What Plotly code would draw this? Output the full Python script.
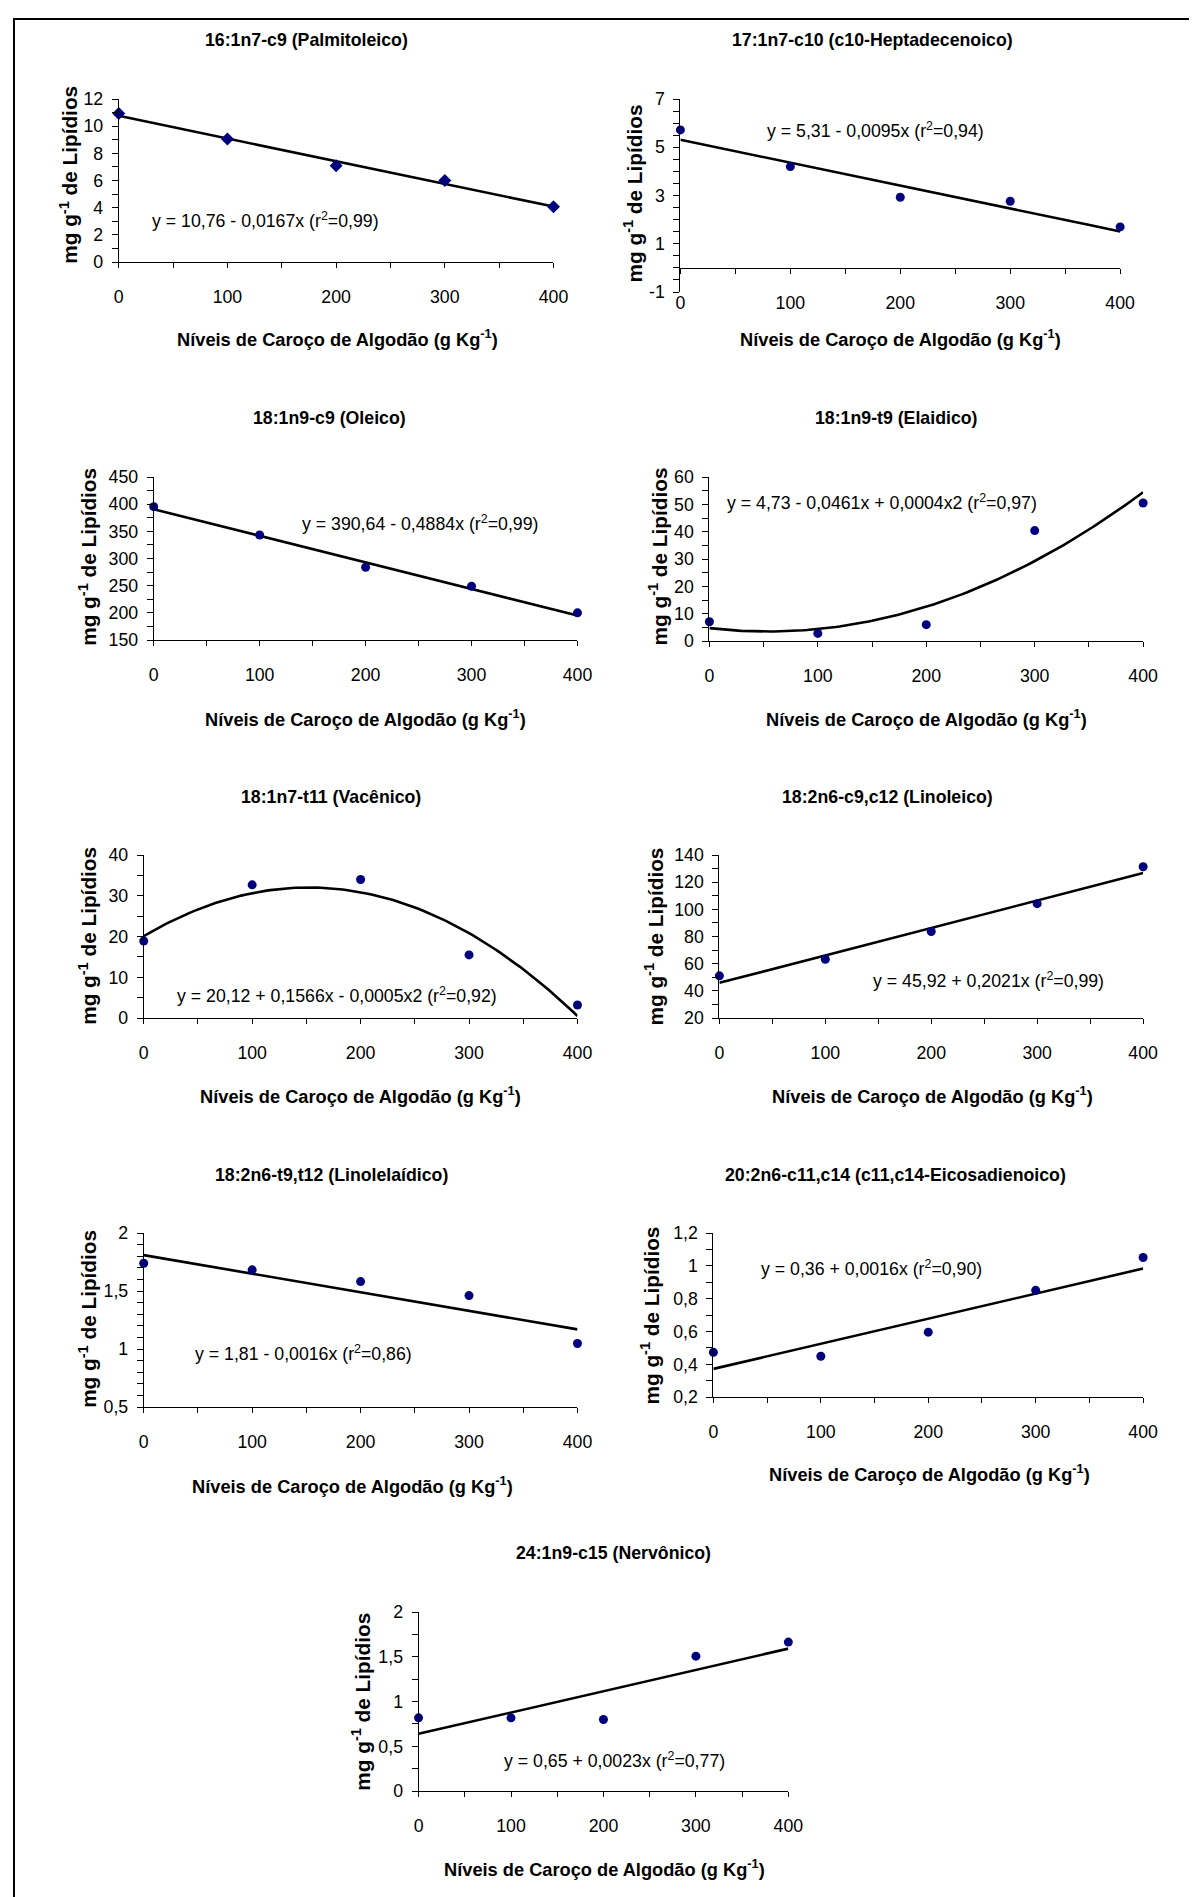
import numpy as np
import plotly.graph_objects as go

# measured mapping of figure pixels onto the photographed page:
# page_x = AX + SX * fig_x,  page_y = AY + SY * fig_y
AX, SX = 11.2, 0.984
AY, SY = 18.0, 0.9894
W, H = 1206, 1900
FS = 1.0 / ((SX + SY) / 2)  # font compensation

# ---------------- data ----------------
x_levels = [0, 100, 200, 300, 400]

palmitoleico = [10.94, 9.05, 7.08, 6.0, 4.06]
heptadecenoico = [5.72, 4.20, 2.93, 2.76, 1.70]
oleico = [395.5, 343.4, 284.0, 249.0, 200.0]
elaidico = [7.07, 2.8, 6.0, 40.4, 50.5]
vacenico = [18.9, 32.7, 34.0, 15.5, 3.2]
linoleico = [51.1, 63.3, 83.7, 104.2, 131.4]
linolelaidico = [1.74, 1.683, 1.582, 1.461, 1.048]
eicosadienoico = [0.473, 0.449, 0.596, 0.851, 1.051]
nervonico = [0.819, 0.819, 0.80, 1.508, 1.665]

# regression coefficients (c0, c1, c2)
coef_palmitoleico = [10.76, -0.0167, 0.0]
coef_heptadecenoico = [5.31, -0.0095, 0.0]
coef_oleico = [390.64, -0.4884, 0.0]
coef_elaidico = [4.73, -0.0461, 0.000426]
coef_vacenico = [20.12, 0.1566, -0.000514]
coef_linoleico = [45.92, 0.2021, 0.0]
coef_linolelaidico = [1.81, -0.0016, 0.0]
coef_eicosadienoico = [0.372, 0.00153, 0.0]
coef_nervonico = [0.64, 0.00238, 0.0]

titles = [
    "16:1n7-c9 (Palmitoleico)",
    "17:1n7-c10 (c10-Heptadecenoico)",
    "18:1n9-c9 (Oleico)",
    "18:1n9-t9 (Elaidico)",
    "18:1n7-t11 (Vacênico)",
    "18:2n6-c9,c12 (Linoleico)",
    "18:2n6-t9,t12 (Linolelaídico)",
    "20:2n6-c11,c14 (c11,c14-Eicosadienoico)",
    "24:1n9-c15 (Nervônico)",
]
equations = [
    "y = 10,76 - 0,0167x (r<sup>2</sup>=0,99)",
    "y = 5,31 - 0,0095x (r<sup>2</sup>=0,94)",
    "y = 390,64 - 0,4884x (r<sup>2</sup>=0,99)",
    "y = 4,73 - 0,0461x + 0,0004x2 (r<sup>2</sup>=0,97)",
    "y = 20,12 + 0,1566x - 0,0005x2 (r<sup>2</sup>=0,92)",
    "y = 45,92 + 0,2021x (r<sup>2</sup>=0,99)",
    "y = 1,81 - 0,0016x (r<sup>2</sup>=0,86)",
    "y = 0,36 + 0,0016x (r<sup>2</sup>=0,90)",
    "y = 0,65 + 0,0023x (r<sup>2</sup>=0,77)",
]
y_ranges = [[0, 12], [-1, 7], [150, 450], [0, 60], [0, 40], [20, 140], [0.5, 2], [0.2, 1.2], [0, 2]]
y_dticks = [2, 2, 50, 10, 10, 20, 0.5, 0.2, 0.5]
y_minor = [1, 0.5, 25, 5, 5, 10, 0.1, 0.1, 0.25]
x_ticks = [0, 100, 200, 300, 400]

series = [palmitoleico, heptadecenoico, oleico, elaidico, vacenico,
          linoleico, linolelaidico, eicosadienoico, nervonico]
coefs = [coef_palmitoleico, coef_heptadecenoico, coef_oleico, coef_elaidico, coef_vacenico,
         coef_linoleico, coef_linolelaidico, coef_eicosadienoico, coef_nervonico]

x_title = "<b>Níveis de Caroço de Algodão (g Kg<sup>-1</sup>)</b>"
y_title = "<b>mg g<sup>-1</sup> de Lipídios</b>"

# ---------------- layout (target page pixels) ----------------
# plot box: left, right, top, bottom
boxes = [
    (117, 552, 99, 262),
    (679, 1119, 99, 292),
    (152, 576, 477, 640),
    (708, 1142, 477, 641),
    (142, 576, 855, 1018),
    (718, 1142, 855, 1018),
    (142, 576, 1233, 1407),
    (712, 1142, 1233, 1397),
    (417, 787, 1612, 1791),
]
title_pos = [(305, 40), (871, 40), (328, 418), (895, 418), (329, 797), (886, 797),
             (330, 1175), (894, 1175), (612, 1553)]
xtitle_pos = [(336, 338), (899, 338), (364, 718), (925, 718), (359, 1095), (931, 1095),
              (351, 1485), (928, 1473), (603, 1868)]
ytitle_pos = [(67, 175), (632, 193), (86, 557), (657, 556), (86, 936), (653, 936),
              (86, 1319), (649, 1315), (360, 1702)]
eq_pos = [(148, 220), (764, 130), (298, 523), (724, 502), (173, 995), (870, 980),
          (191, 1353), (758, 1268), (500, 1760)]

FONT = "Liberation Sans, Arial, sans-serif"
NAVY = "#00007f"


def px(x):
    return ((x - AX) / SX) / W


def py(y):
    return 1 - ((y - AY) / SY) / H


def fmt(v):
    return ("%g" % round(v, 6)).replace(".", ",")


fig = go.Figure()
annotations = []
layout = dict()

for i in range(9):
    n = i + 1
    xa = "x" if n == 1 else f"x{n}"
    ya = "y" if n == 1 else f"y{n}"
    l, r, t, b = boxes[i]
    c = coefs[i]
    xf = np.linspace(0, 400, 121)
    yf = c[0] + c[1] * xf + c[2] * xf ** 2
    fig.add_trace(go.Scatter(x=xf, y=yf, mode="lines", xaxis=xa, yaxis=ya,
                             line=dict(color="black", width=2.6), showlegend=False,
                             cliponaxis=False, hoverinfo="skip"))
    fig.add_trace(go.Scatter(x=x_levels, y=series[i], mode="markers", xaxis=xa, yaxis=ya,
                             marker=dict(color=NAVY, size=9 if i else 10,
                                         symbol="diamond" if i == 0 else "circle"),
                             showlegend=False, cliponaxis=False))
    yr = y_ranges[i]
    nt = int(round((yr[1] - yr[0]) / y_dticks[i]))
    yvals = [yr[0] + k * y_dticks[i] for k in range(nt + 1)]
    xaxis = dict(domain=[px(l), px(r)], range=[0, 400], anchor=ya,
                 showgrid=False, zeroline=False, showline=True, linecolor="black", linewidth=1,
                 ticks="outside", ticklen=5, tickcolor="black", tickwidth=1,
                 tickmode="array", tickvals=x_ticks, ticktext=[fmt(v) for v in x_ticks],
                 ticklabelstandoff=14,
                 tickfont=dict(family=FONT, size=17.5 * FS, color="black"),
                 minor=dict(tickmode="linear", dtick=50, tick0=0, ticks="outside", ticklen=5,
                            tickcolor="black", showgrid=False),
                 fixedrange=True)
    if yr[0] < 0:
        # x axis crosses at y = 0
        ypos = b - (0 - yr[0]) / (yr[1] - yr[0]) * (b - t)
        xaxis.update(anchor="free", position=py(ypos))
    yaxis = dict(domain=[py(b), py(t)], range=yr, anchor=xa,
                 showgrid=False, zeroline=False, showline=True, linecolor="black", linewidth=1,
                 ticks="outside", ticklen=6, tickcolor="black", tickwidth=1,
                 tickmode="array", tickvals=yvals, ticktext=[fmt(v) for v in yvals],
                 ticklabelstandoff=5,
                 tickfont=dict(family=FONT, size=17.5 * FS, color="black"),
                 minor=dict(tickmode="linear", dtick=y_minor[i], tick0=yr[0], ticks="outside",
                            ticklen=6, tickcolor="black", showgrid=False),
                 fixedrange=True)
    layout["xaxis" if n == 1 else f"xaxis{n}"] = xaxis
    layout["yaxis" if n == 1 else f"yaxis{n}"] = yaxis

    tx, ty = title_pos[i]
    annotations.append(dict(x=px(tx), y=py(ty), xref="paper", yref="paper", showarrow=False,
                            text="<b>" + titles[i] + "</b>", xanchor="center", yanchor="middle",
                            font=dict(family=FONT, size=17.5 * FS, color="black")))
    tx, ty = xtitle_pos[i]
    annotations.append(dict(x=px(tx), y=py(ty), xref="paper", yref="paper", showarrow=False,
                            text=x_title, xanchor="center", yanchor="middle",
                            font=dict(family=FONT, size=18 * FS, color="black")))
    tx, ty = ytitle_pos[i]
    annotations.append(dict(x=px(tx), y=py(ty), xref="paper", yref="paper", showarrow=False,
                            text=y_title, xanchor="center", yanchor="middle", textangle=-90,
                            font=dict(family=FONT, size=20.5 * FS, color="black")))
    tx, ty = eq_pos[i]
    annotations.append(dict(x=px(tx), y=py(ty), xref="paper", yref="paper", showarrow=False,
                            text=equations[i], xanchor="left", yanchor="middle",
                            font=dict(family=FONT, size=17.5 * FS, color="black")))

shapes = [
    dict(type="line", xref="paper", yref="paper", x0=0, x1=1, y0=1 - 1 / H, y1=1 - 1 / H,
         line=dict(color="black", width=2)),
    dict(type="line", xref="paper", yref="paper", x0=1 / W, x1=1 / W, y0=1 - 1 / H, y1=0,
         line=dict(color="black", width=2)),
]

fig.update_layout(
    width=W, height=H,
    margin=dict(l=0, r=0, t=0, b=0),
    paper_bgcolor="white", plot_bgcolor="white",
    separators=", ",
    annotations=annotations,
    shapes=shapes,
    showlegend=False,
    **layout,
)

fig.write_html("out.html")
